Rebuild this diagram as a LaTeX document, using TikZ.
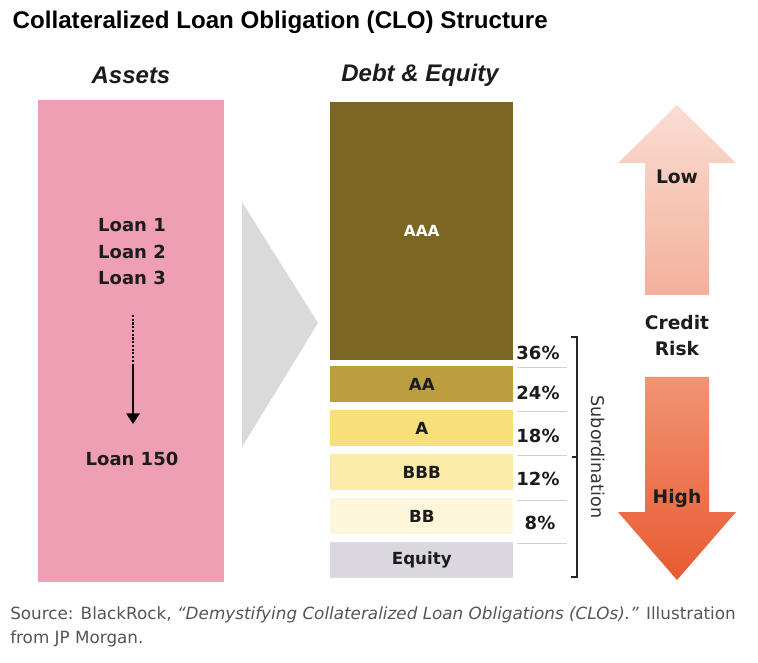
\documentclass[tikz,border=0pt]{standalone}
\usepackage{fontspec}
\setmainfont{Liberation Sans}
\newfontfamily\labelfont{DejaVu Sans}
\usetikzlibrary{arrows.meta}

\definecolor{assetpink}{HTML}{EE9FB3}
\definecolor{funnelgray}{HTML}{DADADA}
\definecolor{trAAA}{HTML}{7B6624}
\definecolor{trAA}{HTML}{BD9E3E}
\definecolor{trA}{HTML}{F8DF7C}
\definecolor{trBBB}{HTML}{FAEBA8}
\definecolor{trBB}{HTML}{FEF6DA}
\definecolor{trEq}{HTML}{DAD7DE}
\definecolor{inkdark}{HTML}{1C1C1C}
\definecolor{sourcegray}{HTML}{555555}
\definecolor{lowtop}{HTML}{FADDD3}
\definecolor{lowbot}{HTML}{F3B09B}
\definecolor{hightop}{HTML}{F19475}
\definecolor{highbot}{HTML}{E85A30}

\tikzset{
	header/.style={font=\fontsize{18}{21}\selectfont\bfseries\itshape, text=inkdark},
	loantxt/.style={font=\labelfont\fontsize{13.5}{16}\selectfont\bfseries, text=inkdark},
	tranche/.style={anchor=north west, minimum width=137.25pt, minimum height=27pt,
		inner sep=0pt, font=\labelfont\fontsize{12.5}{15}\selectfont\bfseries, text=inkdark},
	pct/.style={font=\labelfont\fontsize{13.5}{16}\selectfont\bfseries, text=inkdark},
	sepline/.style={draw=black!18, line width=0.6pt},
	risktxt/.style={font=\labelfont\fontsize{14}{19.5}\selectfont\bfseries, text=inkdark, align=center}
}

\begin{document}
\begin{tikzpicture}[x=0.75pt,y=-0.75pt]
	\useasboundingbox (0,0) rectangle (758,663);

	% title and headers
	\node[anchor=west, font=\fontsize{18.1}{21}\selectfont\bfseries] (title) at (8,22)
		{Collateralized Loan Obligation (CLO) Structure};
	\node[header] (assetshead) at (131,75) {Assets};
	\node[header] (debthead) at (420,75) {Debt \& Equity};

	% assets
	\fill[assetpink] (38,100) rectangle (224,582);
	\node[loantxt] (loan1) at (132,225) {Loan 1};
	\node[loantxt] (loan2) at (132,252) {Loan 2};
	\node[loantxt] (loan3) at (132,278) {Loan 3};
	\node[loantxt] (loan150) at (132,459) {Loan 150};
	\coordinate (dotstart) at (133,315);
	\coordinate (dotend) at (133,366);
	\draw[line width=1.6pt, dash pattern=on 1.6pt off 1.2pt] (dotstart) -- (dotend);
	\draw[line width=1.6pt, -{Triangle[length=8pt,width=10pt]}] (dotend) -- (133,424);

	% funnel
	\fill[funnelgray] (242,202) -- (318,323) -- (242,447) -- cycle;

	% tranches
	\node[tranche, fill=trAAA, minimum height=193.5pt, text=white,
		font=\labelfont\fontsize{11.5}{14}\selectfont\bfseries] (aaa) at (330,102) {AAA};
	\node[tranche, fill=trAA] (aa) at (330,366) {AA};
	\node[tranche, fill=trA] (a) at (330,410) {A};
	\node[tranche, fill=trBBB] (bbb) at (330,454) {BBB};
	\node[tranche, fill=trBB] (bb) at (330,498) {BB};
	\node[tranche, fill=trEq] (equity) at (330,542) {Equity};

	% subordination levels
	\node[pct] (p36) at (538,353) {36\%};
	\node[pct] (p24) at (538,393) {24\%};
	\node[pct] (p18) at (538,436) {18\%};
	\node[pct] (p12) at (538,479) {12\%};
	\node[pct] (p8) at (540,523) {8\%};
	\foreach \yy in {367,411,455,500,543}
		\draw[sepline] (517,\yy) -- (567,\yy);

	\draw[line width=0.8pt, black!85] (571,337) -- (577,337) -- (577,577) -- (571,577);
	\draw[line width=0.8pt, black!85] (577,457) -- (572,457);
	\node[rotate=-90, font=\labelfont\fontsize{13.2}{16}\selectfont, text=black!80] (subord) at (598,457) {Subordination};

	% credit risk arrows
	\shade[top color=lowtop, bottom color=lowbot]
		(677,105) -- (736,163) -- (709,163) -- (709,295) -- (645,295) -- (645,163) -- (618,163) -- cycle;
	\shade[top color=hightop, bottom color=highbot]
		(645,377) -- (709,377) -- (709,512) -- (736,512) -- (677,580) -- (618,512) -- (645,512) -- cycle;
	\node[risktxt] (low) at (677,177) {Low};
	\node[risktxt] (credit) at (677,336) {Credit\\Risk};
	\node[risktxt] (high) at (677,498) {High};

	% source
	\node[anchor=north west, align=left, text=sourcegray, inner sep=0pt,
		font=\labelfont\fontsize{12.6}{18}\selectfont] (source) at (10,606)
		{Source: BlackRock, \textit{“Demystifying Collateralized Loan Obligations (CLOs).”} Illustration\\
		from JP Morgan.};
\end{tikzpicture}
\end{document}
